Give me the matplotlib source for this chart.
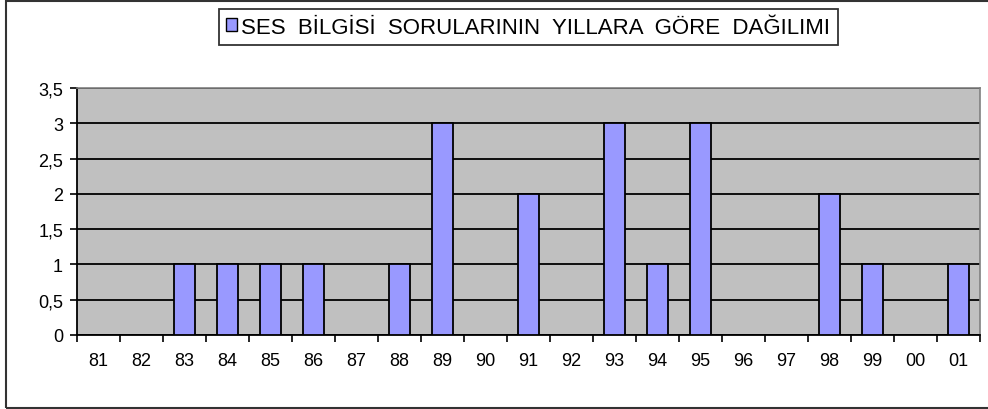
import matplotlib.pyplot as plt
from matplotlib.patches import Patch, Rectangle

years = ['81', '82', '83', '84', '85', '86', '87', '88', '89', '90', '91',
         '92', '93', '94', '95', '96', '97', '98', '99', '00', '01']
counts = [0, 0, 1, 1, 1, 1, 0, 1, 3, 0, 2, 0, 3, 1, 3, 0, 0, 2, 1, 0, 1]
yticks = [0, 0.5, 1, 1.5, 2, 2.5, 3, 3.5]
ytick_labels = ['0', '0,5', '1', '1,5', '2', '2,5', '3', '3,5']
title = 'SES  BİLGİSİ  SORULARININ  YILLARA  GÖRE  DAĞILIMI'

plt.rcParams['font.family'] = ['Liberation Sans', 'DejaVu Sans']

fig = plt.figure(figsize=(9.88, 4.10), dpi=100)
fig.patch.set_facecolor('white')
# outer chart frame
fig.add_artist(Rectangle((6/988, 1/410), 1.2, 407/410, transform=fig.transFigure,
                         fill=False, edgecolor='#333333', linewidth=1.5))

ax = fig.add_axes([77/988, 1 - 336/410, (980 - 77)/988, (336 - 89)/410])
ax.set_facecolor('#C0C0C0')
x = range(len(years))
ax.bar(x, counts, width=0.47, color='#9999FF', edgecolor='black', linewidth=1.3, zorder=3)

ax.set_xlim(-0.5, len(years) - 0.5)
ax.set_ylim(0, 3.5)
ax.set_yticks(yticks)
ax.set_yticklabels(ytick_labels, fontsize=13)
ax.set_xticks([i + 0.5 for i in range(-1, len(years))], minor=False)
ax.set_xticklabels([])
ax.set_xticks(list(x), minor=True)
ax.set_xticklabels(years, minor=True, fontsize=13)
ax.tick_params(axis='x', which='minor', length=0, pad=12)
ax.tick_params(axis='x', which='major', length=5, width=1.2, direction='out')
ax.tick_params(axis='y', length=5, width=1.2, direction='out', pad=5)

ax.yaxis.grid(True, color='black', linewidth=1.3, zorder=1)
ax.set_axisbelow(True)
for side in ['top', 'right']:
    ax.spines[side].set_color('#808080')
    ax.spines[side].set_linewidth(1.2)
for side in ['left', 'bottom']:
    ax.spines[side].set_color('black')
    ax.spines[side].set_linewidth(1.3)

handle = Patch(facecolor='#9999FF', edgecolor='black', linewidth=1)
leg = fig.legend([handle], [title], loc='center', bbox_to_anchor=(528/988, 1 - 28/410),
                 fontsize=16, frameon=True, fancybox=False, handlelength=0.5,
                 handleheight=0.5, handletextpad=0.15, borderpad=0.35)
leg.get_frame().set_edgecolor('black')
leg.get_frame().set_linewidth(1.3)

fig.savefig('out.png', dpi=100)
